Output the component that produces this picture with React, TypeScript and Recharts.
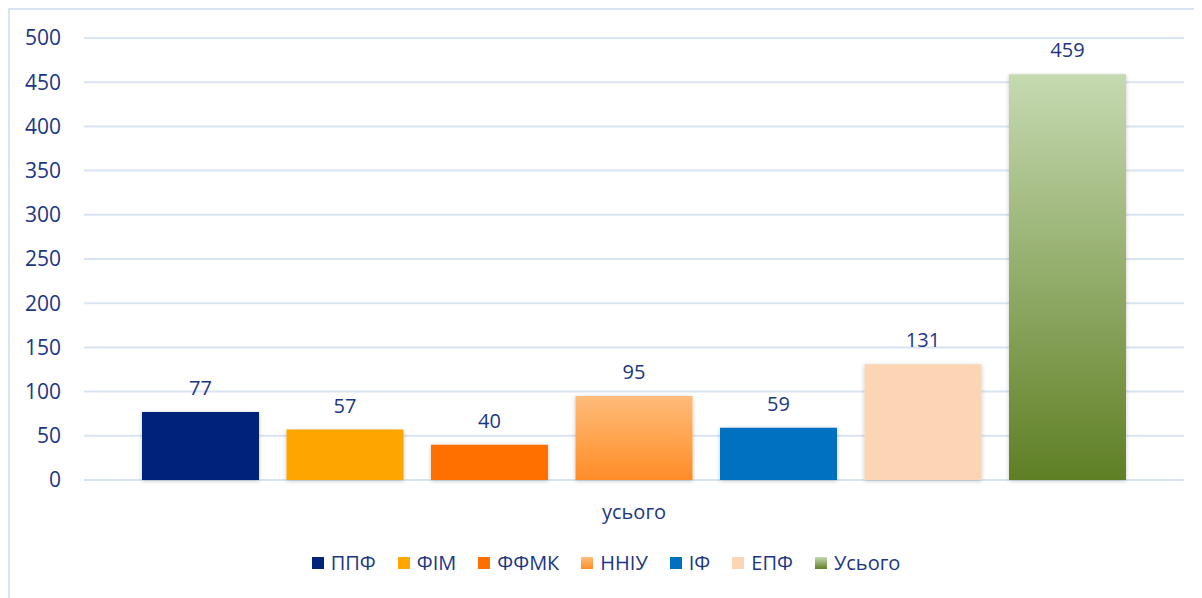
import { BarChart, Bar, XAxis, YAxis, CartesianGrid, Legend, LabelList } from 'recharts'

const categories = ['усього']
const seriesNames = ['ППФ', 'ФІМ', 'ФФМК', 'ННІУ', 'ІФ', 'ЕПФ', 'Усього']
const seriesValues = [77, 57, 40, 95, 59, 131, 459]
const yTicks = [0, 50, 100, 150, 200, 250, 300, 350, 400, 450, 500]

const keys = ['s0', 's1', 's2', 's3', 's4', 's5', 's6']
const fills = ['#002479', '#FFA500', '#FF6F00', 'url(#gNniu)', '#0070C0', '#FCD5B4', 'url(#gTotal)']
const swatches = [
  '#002479', '#FFA500', '#FF6F00',
  'linear-gradient(#FFBC7A, #FF8C26)',
  '#0070C0', '#FCD5B4',
  'linear-gradient(#C6DAB1, #5F7F24)',
]

const data = categories.map(c => {
  const row: Record<string, string | number> = { name: c }
  keys.forEach((k, i) => { row[k] = seriesValues[i] })
  return row
})

const textColor = '#1C3684'
const font = '"Open Sans", "Noto Sans", sans-serif'

function LegendBox() {
  return (
    <div style={{ display: 'flex', justifyContent: 'center', alignItems: 'center', fontFamily: font, fontSize: 20, color: textColor }}>
      {seriesNames.map((n, i) => (
        <div key={n} style={{ display: 'flex', alignItems: 'center', marginRight: i < seriesNames.length - 1 ? 22 : 0 }}>
          <span style={{ width: 12, height: 12, background: swatches[i], marginRight: 7, display: 'inline-block' }} />
          <span>{n}</span>
        </div>
      ))}
    </div>
  )
}

export default function App() {
  return (
    <div style={{
      width: 1194, height: 590, boxSizing: 'border-box',
      borderLeft: '2px solid #D9E4F3', borderTop: '2px solid #D9E4F3', background: '#fff',
    }}>
      <BarChart width={1192} height={588} data={data}
        margin={{ top: 28, right: 18, bottom: 78, left: 0 }}
        barCategoryGap={58} barGap={27.5}>
        <defs>
          <linearGradient id="gNniu" x1="0" y1="0" x2="0" y2="1">
            <stop offset="0%" stopColor="#FFBC7A" />
            <stop offset="100%" stopColor="#FF8C26" />
          </linearGradient>
          <linearGradient id="gTotal" x1="0" y1="0" x2="0" y2="1">
            <stop offset="0%" stopColor="#C6DAB1" />
            <stop offset="100%" stopColor="#5F7F24" />
          </linearGradient>
          <filter id="shadow" x="-10%" y="-10%" width="120%" height="120%">
            <feDropShadow dx="0" dy="1" stdDeviation="2" floodColor="#000" floodOpacity="0.22" />
          </filter>
        </defs>
        <CartesianGrid vertical={false} stroke="#D9E4F3" strokeWidth={2} />
        <XAxis dataKey="name" axisLine={false} tickLine={false} tickSize={0} tickMargin={25} height={40}
          tick={{ fontSize: 20, fill: textColor, fontFamily: font }} />
        <YAxis domain={[0, 500]} ticks={yTicks} axisLine={false} tickLine={false} tickSize={0} tickMargin={23}
          width={74} interval={0}
          tick={{ fontSize: 21, fill: textColor, fontFamily: font }} />
        <Legend layout="horizontal" verticalAlign="middle" align="center"
          wrapperStyle={{ top: 539, left: 0, width: 1192 }}
          content={() => <LegendBox />} />
        {keys.map((k, i) => (
          <Bar key={k} dataKey={k} name={seriesNames[i]} fill={fills[i]} isAnimationActive={false}
            style={{ filter: 'url(#shadow)' }}>
            <LabelList dataKey={k} position="top" offset={17}
              style={{ fontSize: 20, fill: textColor, fontFamily: font }} />
          </Bar>
        ))}
      </BarChart>
    </div>
  )
}
